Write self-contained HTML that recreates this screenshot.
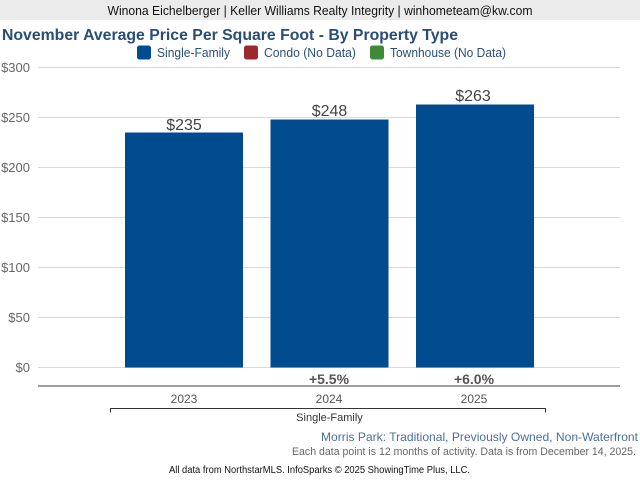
<!DOCTYPE html>
<html><head><meta charset="utf-8"><style>
html,body{margin:0;padding:0;background:#fff;}
svg{display:block;font-family:"Liberation Sans",Arial,sans-serif;}
</style></head><body>
<svg width="640" height="480" viewBox="0 0 640 480" xmlns="http://www.w3.org/2000/svg">
<rect x="0" y="0" width="640" height="20" fill="#ebebeb"/>
<text x="320" y="15" font-size="13" fill="#111" text-anchor="middle" textLength="425" lengthAdjust="spacingAndGlyphs">Winona Eichelberger | Keller Williams Realty Integrity | winhometeam@kw.com</text>
<text x="2" y="40" font-size="16" font-weight="bold" fill="#284d77" textLength="456" lengthAdjust="spacingAndGlyphs">November Average Price Per Square Foot - By Property Type</text>
<rect x="137" y="45.5" width="14" height="14" rx="2.5" fill="#004b8d"/>
<text x="157" y="57" font-size="13" fill="#2b4f7b" textLength="73" lengthAdjust="spacingAndGlyphs">Single-Family</text>
<rect x="244" y="45.5" width="14" height="14" rx="2.5" fill="#9c2a2c"/>
<text x="264" y="57" font-size="13" fill="#2b4f7b" textLength="92" lengthAdjust="spacingAndGlyphs">Condo (No Data)</text>
<rect x="370" y="45.5" width="14" height="14" rx="2.5" fill="#3e8a35"/>
<text x="390" y="57" font-size="13" fill="#2b4f7b" textLength="116" lengthAdjust="spacingAndGlyphs">Townhouse (No Data)</text>
<g stroke="#d9d9d9" stroke-width="1">
<line x1="38" y1="67.5" x2="620" y2="67.5"/>
<line x1="38" y1="117.5" x2="620" y2="117.5"/>
<line x1="38" y1="167.5" x2="620" y2="167.5"/>
<line x1="38" y1="217.5" x2="620" y2="217.5"/>
<line x1="38" y1="267.5" x2="620" y2="267.5"/>
<line x1="38" y1="317.5" x2="620" y2="317.5"/>
<line x1="38" y1="367.5" x2="620" y2="367.5"/>
</g>
<g font-size="13" fill="#666" text-anchor="end">
<text x="30" y="72">$300</text>
<text x="30" y="122">$250</text>
<text x="30" y="172">$200</text>
<text x="30" y="222">$150</text>
<text x="30" y="272">$100</text>
<text x="30" y="322">$50</text>
<text x="30" y="372">$0</text>
</g>
<rect x="125" y="132.5" width="118" height="235" fill="#004b8d"/>
<rect x="270.5" y="119.5" width="118" height="248" fill="#004b8d"/>
<rect x="416" y="104.5" width="118" height="263" fill="#004b8d"/>
<g font-size="16" fill="#444" text-anchor="middle">
<text x="184" y="130">$235</text>
<text x="329.5" y="116">$248</text>
<text x="473" y="101">$263</text>
</g>
<line x1="38" y1="386" x2="620" y2="386" stroke="#666" stroke-width="1.2"/>
<g font-size="14" font-weight="bold" fill="#555" text-anchor="middle">
<text x="329" y="384">+5.5%</text>
<text x="474" y="384">+6.0%</text>
</g>
<g font-size="12" fill="#555" text-anchor="middle">
<text x="184" y="403">2023</text>
<text x="329" y="403">2024</text>
<text x="474" y="403">2025</text>
</g>
<path d="M110.5 412.5 V408.5 H545.5 V412.5" fill="none" stroke="#333" stroke-width="1"/>
<text x="329.5" y="421" font-size="11" fill="#333" text-anchor="middle">Single-Family</text>
<text x="638" y="441" font-size="12" fill="#4a6fa3" text-anchor="end" textLength="317" lengthAdjust="spacingAndGlyphs">Morris Park: Traditional, Previously Owned, Non-Waterfront</text>
<text x="636" y="455" font-size="11" fill="#666" text-anchor="end" textLength="344" lengthAdjust="spacingAndGlyphs">Each data point is 12 months of activity. Data is from December 14, 2025.</text>
<text x="169" y="473" font-size="10" fill="#111" textLength="301" lengthAdjust="spacingAndGlyphs">All data from NorthstarMLS. InfoSparks © 2025 ShowingTime Plus, LLC.</text>
</svg>
</body></html>
